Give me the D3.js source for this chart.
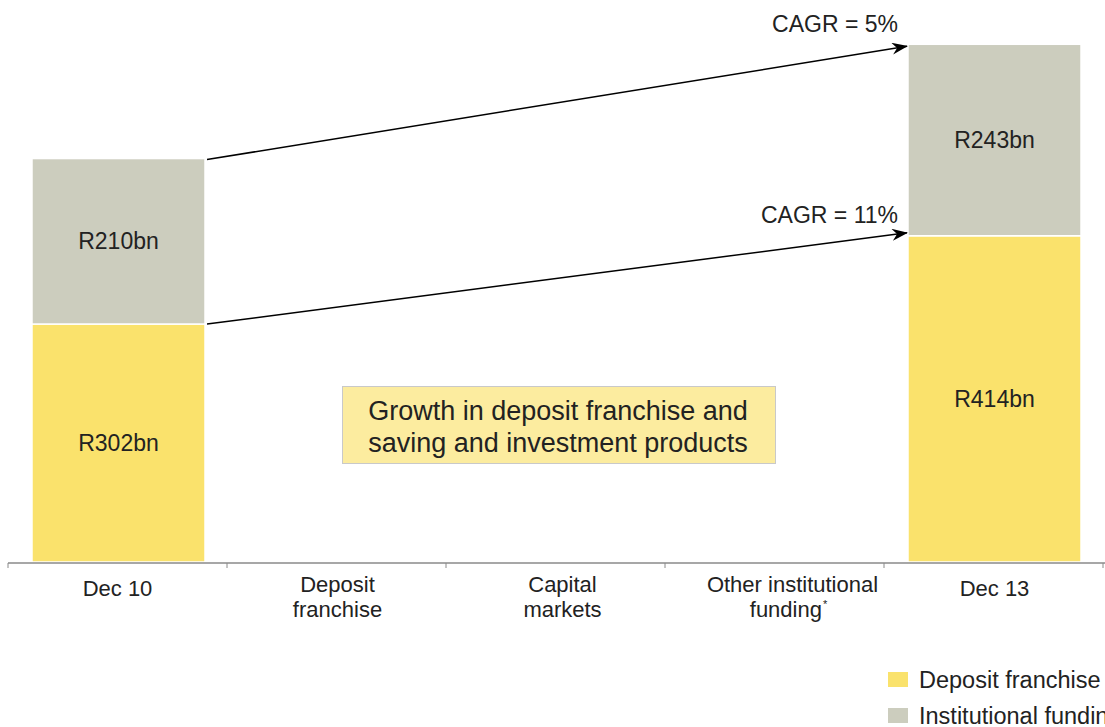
<!DOCTYPE html>
<html>
<head>
<meta charset="utf-8">
<script src="https://cdn.jsdelivr.net/npm/d3@7/dist/d3.min.js"></script>
<style>
  html, body { margin: 0; padding: 0; background: #fff; }
  svg { display: block; font-family: "Liberation Sans", Arial, sans-serif; }
</style>
</head>
<body>
<svg id="chart" width="1105" height="727"></svg>
<script>
// Funding mix, R billion
const categories = ["Dec 10", "Deposit franchise", "Capital markets", "Other institutional funding", "Dec 13"];
const categoryLines = [["Dec 10"], ["Deposit", "franchise"], ["Capital", "markets"], ["Other institutional", "funding"], ["Dec 13"]];
const barCategories = ["Dec 10", "Dec 13"];
const depositFranchise = [302, 414];
const institutionalFunding = [210, 243];
const valueLabels = [["R302bn", "R414bn"], ["R210bn", "R243bn"]];
const cagrLabels = ["CAGR = 5%", "CAGR = 11%"];
const seriesNames = ["Deposit franchise", "Institutional funding"];
const calloutLines = ["Growth in deposit franchise and", "saving and investment products"];

const colors = ["#fae26c", "#cccdbe"];
const textColor = "#222";

const svg = d3.select("#chart");
const x = d3.scaleBand().domain(categories).range([8, 1103]).padding(0);
const y = d3.scaleLinear().domain([0, 700]).range([562, 562 - 700 * 0.788]);
const barW = x.bandwidth() * 0.79;
const barX = c => x(c) + (x.bandwidth() - barW) / 2 + 1;

// stacked data
const rows = barCategories.map((c, i) => ({ cat: c, deposit: depositFranchise[i], institutional: institutionalFunding[i] }));
const stack = d3.stack().keys(["deposit", "institutional"])(rows);

stack.forEach((layer, li) => {
  svg.append("g").selectAll("rect").data(layer).join("rect")
    .attr("x", d => barX(d.data.cat))
    .attr("width", barW)
    .attr("y", d => y(d[1]))
    .attr("height", d => y(d[0]) - y(d[1]))
    .attr("fill", colors[li])
    .attr("stroke", "#fff")
    .attr("stroke-width", 1.5);
  svg.append("g").selectAll("text").data(layer).join("text")
    .attr("x", d => barX(d.data.cat) + barW / 2)
    .attr("y", d => (y(d[0]) + y(d[1])) / 2 + 8)
    .attr("text-anchor", "middle")
    .attr("font-size", 23)
    .attr("fill", textColor)
    .text((d, i) => valueLabels[li][i]);
});

// axis line with ticks at category boundaries
const axisG = svg.append("g").attr("stroke", "#8a8a8a");
axisG.append("line").attr("x1", 8).attr("x2", 1105).attr("y1", 563).attr("y2", 563).attr("stroke-width", 1.5);
const bounds = categories.map(c => x(c)).concat([x.range()[1]]);
axisG.selectAll("line.tick").data(bounds).join("line").attr("class", "tick")
  .attr("x1", d => d).attr("x2", d => d).attr("y1", 563).attr("y2", 568).attr("stroke-width", 1);

// category labels (the two middle-right labels sit a little right of centre)
const labelNudge = [0, 1, 7, 18, 1];
const lab = svg.append("g").attr("fill", textColor).attr("font-size", 22).attr("text-anchor", "middle");
categories.forEach((c, i) => {
  const lines = categoryLines[i];
  const cx = x(c) + x.bandwidth() / 2 + labelNudge[i];
  const t = lab.append("text");
  lines.forEach((ln, k) => {
    const ty = lines.length === 1 ? 596 : 592 + k * 25;
    const span = t.append("tspan").attr("x", cx).attr("y", ty).text(ln);
    if (i === 3 && k === 1) {
      span.attr("x", cx - 4);
      t.append("tspan").attr("dx", 1).attr("dy", -9).attr("font-size", 11).text("*");
    }
  });
});

// CAGR arrows
const defs = svg.append("defs");
defs.append("marker").attr("id", "arrow").attr("viewBox", "0 0 16 12")
  .attr("refX", 15).attr("refY", 6).attr("markerWidth", 16).attr("markerHeight", 12)
  .attr("markerUnits", "userSpaceOnUse").attr("orient", "auto")
  .append("path").attr("d", "M0,0 L16,6 L0,12 L5,6 Z").attr("fill", "#000");

const x0 = barX("Dec 10") + barW + 2;
const x1 = barX("Dec 13") - 1;
const arrows = [
  { from: depositFranchise[0] + institutionalFunding[0], to: depositFranchise[1] + institutionalFunding[1], label: cagrLabels[0], dy0: 1, dy1: 2 },
  { from: depositFranchise[0], to: depositFranchise[1], label: cagrLabels[1], dy0: 0, dy1: -3 }
];
arrows.forEach(a => {
  svg.append("line")
    .attr("x1", x0).attr("y1", y(a.from) + a.dy0)
    .attr("x2", x1).attr("y2", y(a.to) + a.dy1)
    .attr("stroke", "#000").attr("stroke-width", 1.5)
    .attr("marker-end", "url(#arrow)");
  svg.append("text")
    .attr("x", 898).attr("y", y(a.to) - 12.5)
    .attr("text-anchor", "end").attr("font-size", 23).attr("fill", textColor)
    .text(a.label);
});

// callout box
const box = svg.append("g");
box.append("rect").attr("x", 342.5).attr("y", 386.5).attr("width", 433).attr("height", 77)
  .attr("fill", "#fcec9f").attr("stroke", "#c9c9c9").attr("stroke-width", 1);
calloutLines.forEach((ln, k) => {
  box.append("text").attr("x", 558).attr("y", 420 + k * 32)
    .attr("text-anchor", "middle").attr("font-size", 27).attr("fill", textColor).text(ln);
});

// legend
const legend = svg.append("g");
seriesNames.forEach((n, i) => {
  legend.append("rect").attr("x", 888).attr("y", 672 + i * 36).attr("width", 20).attr("height", 15).attr("fill", colors[i]);
  legend.append("text").attr("x", 919).attr("y", 688 + i * 36).attr("font-size", 23.5).attr("fill", textColor).text(n);
});
</script>
</body>
</html>
